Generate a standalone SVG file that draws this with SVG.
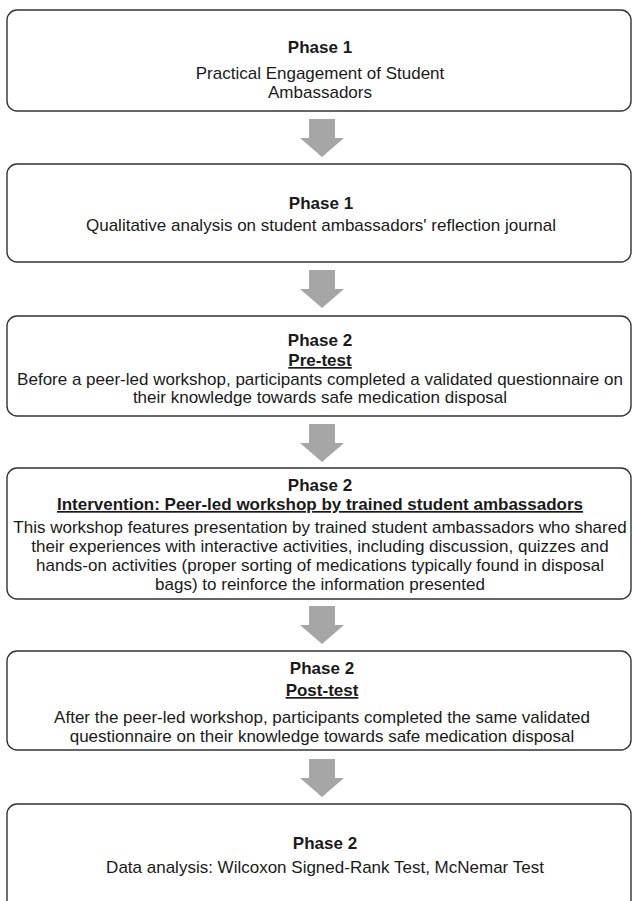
<svg xmlns="http://www.w3.org/2000/svg" width="634" height="901" viewBox="0 0 634 901">
<style>
.box{fill:#fff;stroke:#333;stroke-width:1.4}
.arrow{fill:#a6a6a6}
text{font-family:"Liberation Sans",Arial,sans-serif;font-size:17px;fill:#1a1a1a;text-anchor:middle}
.b{font-weight:bold}
.u{font-weight:bold;text-decoration:underline}
</style>
<rect width="634" height="901" fill="#fff"/>
<defs>
<path id="arr" d="M-13,0 H13 V19 H22 L0,38 L-22,19 H-13 Z"/>
</defs>
<g id="connectors">
<use href="#arr" class="arrow" x="322" y="119"/>
<use href="#arr" class="arrow" x="322" y="270"/>
<use href="#arr" class="arrow" x="322" y="424"/>
<use href="#arr" class="arrow" x="322" y="606"/>
<use href="#arr" class="arrow" x="322" y="759"/>
</g>
<g id="node1">
<rect class="box" x="7" y="10" width="624" height="101" rx="10"/>
<text class="b" x="320" y="53">Phase 1</text>
<text x="320" y="79">Practical Engagement of Student</text>
<text x="320" y="98">Ambassadors</text>
</g>
<g id="node2">
<rect class="box" x="7" y="164" width="624" height="98" rx="10"/>
<text class="b" x="321" y="209">Phase 1</text>
<text x="321" y="231">Qualitative analysis on student ambassadors' reflection journal</text>
</g>
<g id="node3">
<rect class="box" x="7" y="316" width="624" height="100" rx="10"/>
<text class="b" x="320" y="346">Phase 2</text>
<text class="u" x="320" y="366">Pre-test</text>
<text x="320" y="385">Before a peer-led workshop, participants completed a validated questionnaire on</text>
<text x="320" y="403">their knowledge towards safe medication disposal</text>
</g>
<g id="node4">
<rect class="box" x="7" y="468" width="624" height="131" rx="10"/>
<text class="b" x="320" y="491">Phase 2</text>
<text class="u" x="320" y="510">Intervention: Peer-led workshop by trained student ambassadors</text>
<text x="320" y="533">This workshop features presentation by trained student ambassadors who shared</text>
<text x="320" y="552">their experiences with interactive activities, including discussion, quizzes and</text>
<text x="320" y="571">hands-on activities (proper sorting of medications typically found in disposal</text>
<text x="320" y="590">bags) to reinforce the information presented</text>
</g>
<g id="node5">
<rect class="box" x="7" y="651" width="624" height="99" rx="10"/>
<text class="b" x="322" y="674">Phase 2</text>
<text class="u" x="322" y="696">Post-test</text>
<text x="322" y="723">After the peer-led workshop, participants completed the same validated</text>
<text x="322" y="742">questionnaire on their knowledge towards safe medication disposal</text>
</g>
<g id="node6">
<rect class="box" x="7" y="804" width="624" height="120" rx="10"/>
<text class="b" x="325" y="849">Phase 2</text>
<text x="325" y="873">Data analysis: Wilcoxon Signed-Rank Test, McNemar Test</text>
</g>
</svg>
